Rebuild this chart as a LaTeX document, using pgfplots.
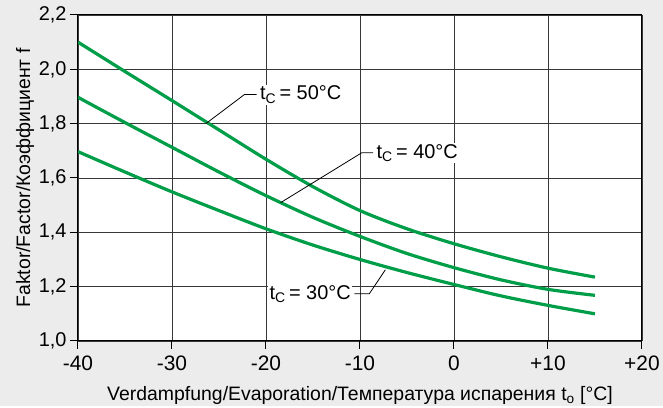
\documentclass[border=0pt]{standalone}
\usepackage{pgfplots}
\pgfplotsset{compat=1.18}
\usepackage{fontspec}
\setmainfont{Liberation Sans}
\usetikzlibrary{backgrounds}
\definecolor{bg}{RGB}{236,236,236}
\definecolor{cgreen}{RGB}{0,158,72}
\begin{document}
\begin{tikzpicture}
\begin{axis}[
 width=564bp, height=326bp, scale only axis,
 xmin=-40, xmax=20, ymin=1, ymax=2.2,
 xtick={-40,-30,-20,-10,0,10,20},
 xticklabels={-40,-30,-20,-10,0,+10,+20},
 ytick={1,1.2,1.4,1.6,1.8,2.0,2.2},
 yticklabel style={font=\fontsize{20}{24}\selectfont, /pgf/number format/.cd, fixed, fixed zerofill, precision=1, use comma, assume math mode=true},
 grid=major, major grid style={black!78, line width=0.8bp},
 axis line style={black, line width=1bp},
 tick style={black, line width=1bp},
 tick align=outside, major tick length=8bp,
 tick pos=left,
 axis background/.style={fill=white},
 xticklabel style={font=\fontsize{21}{24}\selectfont, yshift=-3bp},
 label style={font=\fontsize{19.5}{22}\selectfont},
 xlabel={Verdampfung/Evaporation/Температура испарения t\textsubscript{o} [°C]},
 ylabel={Faktor/Factor/Коэффициент f},
 xlabel style={at={(axis description cs:0.5,-0.167)}, anchor=center},
 ylabel style={at={(axis description cs:-0.094,0.5)}, anchor=center},
]
\addplot[cgreen, line width=3.2bp, smooth] coordinates {
(-40,2.10) (-35,1.992) (-30,1.885) (-25,1.777) (-20,1.669) (-15,1.568) (-10,1.48) (-5,1.413) (0,1.358) (5,1.31) (10,1.268) (15,1.235)};
\addplot[cgreen, line width=3.2bp, smooth] coordinates {
(-40,1.897) (-35,1.804) (-30,1.713) (-25,1.622) (-20,1.535) (-15,1.455) (-10,1.385) (-5,1.322) (0,1.27) (5,1.225) (10,1.19) (15,1.168)};
\addplot[cgreen, line width=3.2bp, smooth] coordinates {
(-40,1.697) (-35,1.622) (-30,1.549) (-25,1.48) (-20,1.413) (-15,1.353) (-10,1.30) (-5,1.252) (0,1.208) (5,1.166) (10,1.131) (15,1.10)};
% annotations
\draw[black, line width=0.8bp] (axis cs:-26.4,1.80) -- (axis cs:-22.3,1.907) -- (axis cs:-21.0,1.907);
\node[anchor=west, fill=white, inner sep=1.5bp, font=\fontsize{20}{23}\selectfont] at (axis cs:-20.8,1.907) {t\textsubscript{C}\,= 50°C};
\draw[black, line width=0.8bp] (axis cs:-18.45,1.509) -- (axis cs:-9.8,1.693) -- (axis cs:-8.6,1.693);
\node[anchor=west, fill=white, inner sep=1.5bp, font=\fontsize{20}{23}\selectfont] at (axis cs:-8.4,1.693) {t\textsubscript{C}\,= 40°C};
\draw[black, line width=0.8bp] (axis cs:-7.3,1.262) -- (axis cs:-9.0,1.174) -- (axis cs:-10.6,1.174);
\node[anchor=east, fill=white, inner sep=1.5bp, font=\fontsize{20}{23}\selectfont] at (axis cs:-10.8,1.174) {t\textsubscript{C}\,= 30°C};
\end{axis}
\begin{scope}[on background layer]
\fill[bg] ([xshift=-78bp,yshift=-65bp]current axis.south west) rectangle ([xshift=21bp,yshift=15bp]current axis.north east);
\end{scope}
\end{tikzpicture}
\end{document}
